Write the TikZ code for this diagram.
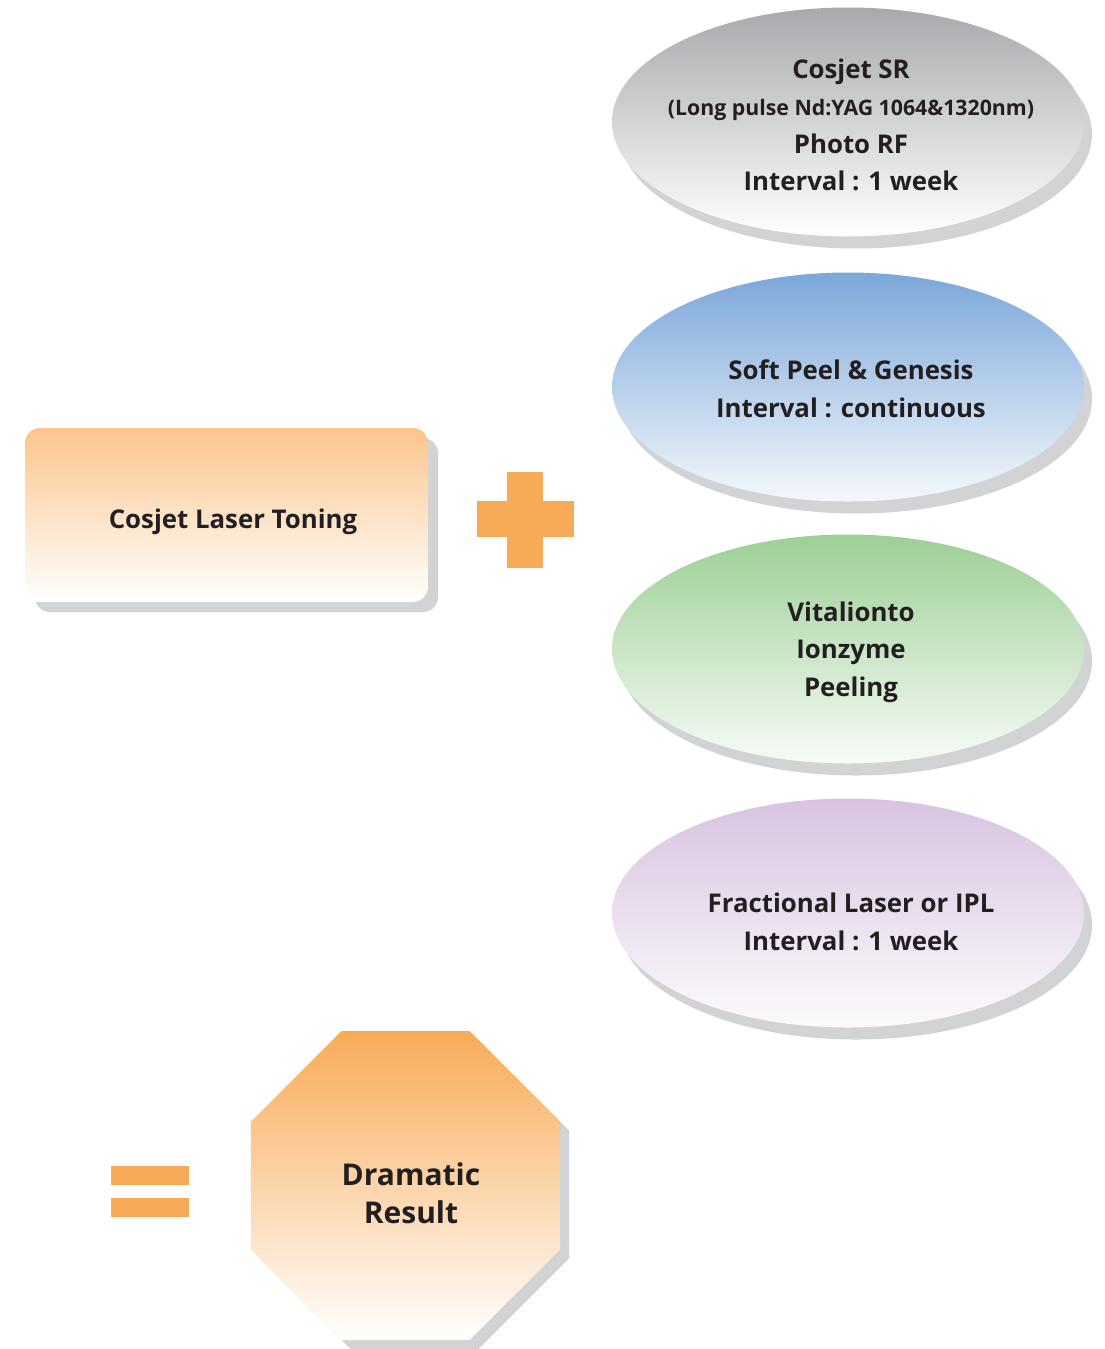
\documentclass[tikz,border=0pt]{standalone}
\usepackage{fontspec}
\setmainfont{Open Sans}
\usetikzlibrary{shapes.geometric,shadows}
\definecolor{txt}{HTML}{231F20}
\definecolor{shad}{HTML}{D1D3D4}
\definecolor{org}{HTML}{F8AB57}
\definecolor{orgl}{HTML}{FBC58C}
\definecolor{grayt}{HTML}{A7A9AC}
\definecolor{bluet}{HTML}{7BA7DA}
\definecolor{greent}{HTML}{9CCF95}
\definecolor{lavt}{HTML}{D8C3E0}
\tikzset{
  oval/.style={ellipse, minimum width=472pt, minimum height=229pt, inner sep=0pt,
    drop shadow={shadow xshift=8pt, shadow yshift=-12pt, fill=shad, opacity=1}},
  mainbox/.style={rectangle, rounded corners=15pt, minimum width=403pt, minimum height=174pt,
    inner sep=0pt, top color=orgl, bottom color=white,
    drop shadow={shadow xshift=10pt, shadow yshift=-10pt, fill=shad, opacity=1}},
  octo/.style={regular polygon, regular polygon sides=8, minimum size=334.5pt, inner sep=0pt,
    top color=org, middle color=org!55!white, bottom color=white,
    drop shadow={shadow xshift=9pt, shadow yshift=-9pt, fill=shad, opacity=1}},
  lbl/.style={align=center, text=txt, inner sep=0pt, font=\fontsize{25.8}{37.5}\selectfont\bfseries},
  biglbl/.style={align=center, text=txt, inner sep=0pt, font=\fontsize{30}{38}\selectfont\bfseries},
  bar/.style={fill=org, draw=none}
}
\begin{document}
\begin{tikzpicture}[x=1pt,y=-1pt]
\useasboundingbox (0,0) rectangle (1105,1349);
\node[oval, top color=grayt, bottom color=white] (o1) at (848,122) {};
\node[oval, top color=bluet, bottom color=white!92!bluet] (o2) at (848,387) {};
\node[oval, top color=greent, bottom color=white!92!greent] (o3) at (848,649) {};
\node[oval, top color=lavt, bottom color=white!92!lavt] (o4) at (848,913) {};
\node[lbl] (t1) at (851,125)
  {Cosjet SR\\{\fontsize{21.3}{37.5}\selectfont (Long pulse Nd:YAG 1064\&1320nm)}\\Photo RF\\Interval : 1 week};
\node[lbl] (t2) at (851,389) {Soft Peel \& Genesis\\Interval : continuous};
\node[lbl] (t3) at (851,652) {Vitalionto\\Ionzyme\\Peeling};
\node[lbl] (t4) at (851,922) {Fractional Laser or IPL\\Interval : 1 week};
\node[mainbox] (lt) at (226.5,515) {};
\node[lbl] (ltt) at (233,522) {Cosjet Laser Toning};
\fill[bar] (507,472) rectangle (543,568);
\fill[bar] (477,501) rectangle (574,537);
\fill[bar] (111,1166) rectangle (189,1185);
\fill[bar] (111,1198) rectangle (189,1217);
\node[octo] (res) at (405.5,1185.5) {};
\node[biglbl] (rest) at (411,1193) {Dramatic\\Result};
\end{tikzpicture}
\end{document}
